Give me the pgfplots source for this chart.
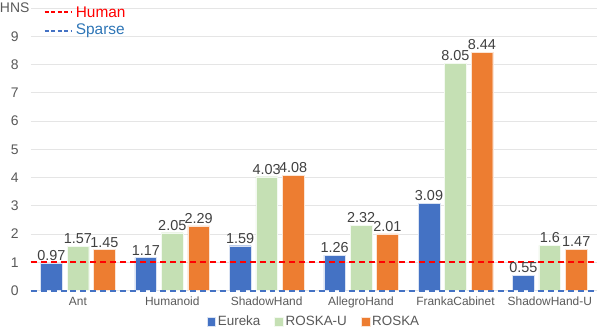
\documentclass[border=0pt]{standalone}
\usepackage{fontspec}
\setmainfont{Liberation Sans}
\usepackage{pgfplots}
\pgfplotsset{compat=1.18}
\definecolor{eureka}{HTML}{4472C4}
\definecolor{roskau}{HTML}{C5E0B4}
\definecolor{roska}{HTML}{ED7D31}
\definecolor{txt}{HTML}{595959}
\definecolor{lbl}{HTML}{404040}
\definecolor{sparse}{HTML}{2E75B6}
\pgfplotsset{barlabels/.style={nodes near coords, point meta=explicit symbolic,
    nodes near coords style={font=\fontsize{14.5}{14.5}\selectfont, text=lbl, yshift=-1pt}}}
\begin{document}
\begin{tikzpicture}
\begin{axis}[
    width=567bp, height=283bp, scale only axis,
    ybar,
    xmin=-0.5, xmax=5.5, ymin=0, ymax=10,
    xtick={0,...,5},
    xticklabels={Ant,Humanoid,ShadowHand,AllegroHand,FrankaCabinet,ShadowHand-U},
    ytick={0,...,10},
    yticklabels={0,1,2,3,4,5,6,7,8,9,HNS},
    /pgf/number format/assume math mode=true,
    y tick label style={font=\fontsize{14}{14}\selectfont, text=txt, anchor=center, inner sep=0pt, xshift=-16bp},
    x tick label style={font=\fontsize{12}{12}\selectfont, text=txt, yshift=-3bp},
    ymajorgrids, grid style={gray!20, line width=0.8pt},
    axis line style={draw=none},
    major tick length=0pt,
    bar width=0.23,
    legend style={at={(0.5,-0.11)}, anchor=center, draw=none, legend columns=3,
        font=\fontsize{13.5}{13.5}\selectfont, text=txt,
        /tikz/every even column/.append style={column sep=12pt}},
    legend image code/.code={\fill[#1] (0pt,-4.5pt) rectangle (9pt,4.5pt);},
    clip=false,
]
\addplot[barlabels, fill=eureka, draw=white!80!eureka, bar shift=-0.28] table[meta=m] {
x y m
0 0.97 0.97
1 1.17 1.17
2 1.59 1.59
3 1.26 1.26
4 3.09 3.09
5 0.55 0.55
};
\addlegendentry{Eureka}
\addplot[barlabels, fill=roskau, draw=white!80!roskau, bar shift=0] table[meta=m] {
x y m
0 1.57 1.57
1 2.05 2.05
2 4.03 4.03
3 2.32 2.32
4 8.05 8.05
5 1.60 1.6
};
\addlegendentry{ROSKA-U}
\addplot[barlabels, fill=roska, draw=white!80!roska, bar shift=0.28] table[meta=m] {
x y m
0 1.45 1.45
1 2.29 2.29
2 4.08 4.08
3 2.01 2.01
4 8.44 8.44
5 1.47 1.47
};
\addlegendentry{ROSKA}
\addplot[sharp plot, red, dash pattern=on 6pt off 4pt, line width=2pt, forget plot] coordinates {(-0.5,1) (5.5,1)};
\addplot[sharp plot, eureka, dash pattern=on 6pt off 4pt, line width=2pt, forget plot] coordinates {(-0.5,0) (5.5,0)};
\end{axis}
% room above the top gridline, as in the reference
\path (0bp,291bp);
\draw[red, dash pattern=on 4pt off 2.5pt, line width=1.8pt] (14bp,279bp) -- (40bp,279bp);
\node[anchor=west, text=red, font=\fontsize{15.5}{15.5}\selectfont, inner sep=0pt] at (45bp,279bp) {Human};
\draw[eureka, dash pattern=on 4pt off 2.5pt, line width=1.8pt] (14bp,260bp) -- (40bp,260bp);
\node[anchor=west, text=sparse, font=\fontsize{15.5}{15.5}\selectfont, inner sep=0pt] at (45bp,260bp) {Sparse};
\end{tikzpicture}
\end{document}
